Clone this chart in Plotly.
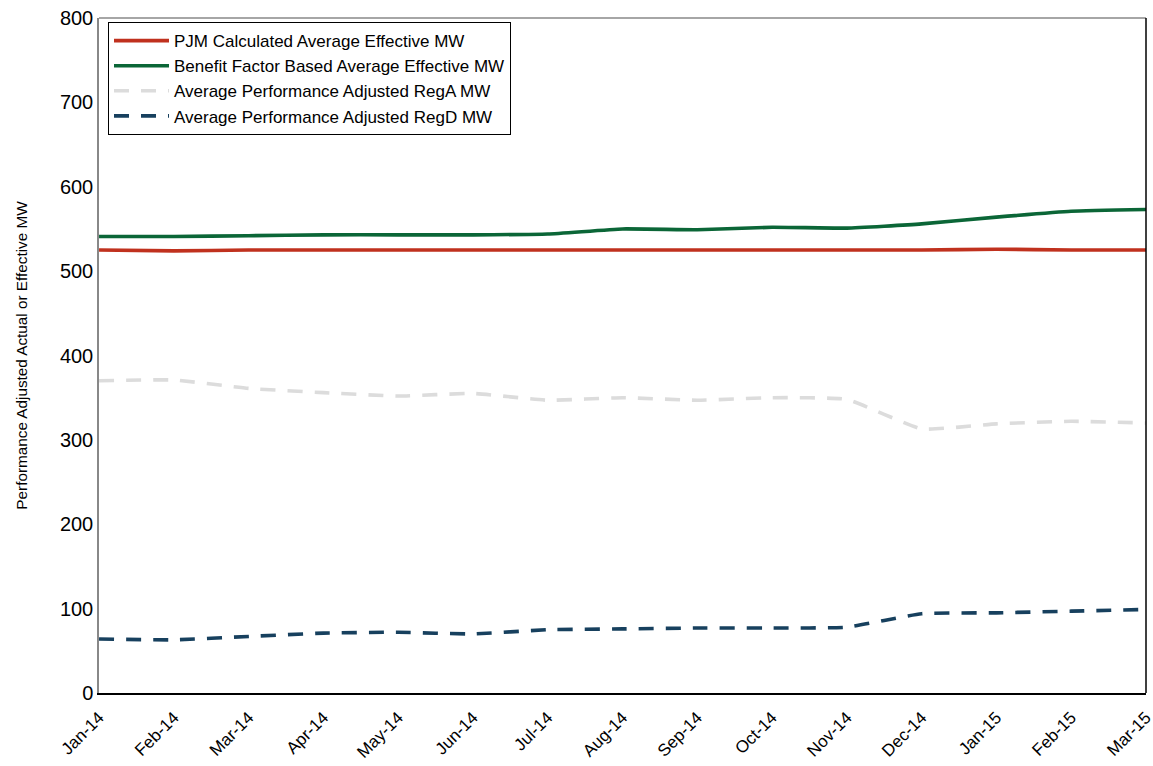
import plotly.graph_objects as go

months = ["Jan-14", "Feb-14", "Mar-14", "Apr-14", "May-14", "Jun-14", "Jul-14", "Aug-14",
          "Sep-14", "Oct-14", "Nov-14", "Dec-14", "Jan-15", "Feb-15", "Mar-15"]
pjm_effective = [525, 524, 525, 525, 525, 525, 525, 525, 525, 525, 525, 525, 526, 525, 525]
benefit_factor = [541, 541, 542, 543, 543, 543, 544, 550, 549, 552, 551, 556, 564, 571, 573]
rega_mw = [370, 371, 361, 356, 352, 355, 347, 350, 347, 350, 348, 313, 319, 322, 320]
regd_mw = [64, 63, 67, 71, 72, 70, 75, 76, 77, 77, 78, 94, 95, 97, 99]
y_ticks = [0, 100, 200, 300, 400, 500, 600, 700, 800]

x = list(range(len(months)))

fig = go.Figure()
series = [
    ("PJM Calculated Average Effective MW", pjm_effective, "#C0311E", "solid"),
    ("Benefit Factor Based Average Effective MW", benefit_factor, "#0B6637", "solid"),
    ("Average Performance Adjusted RegA MW", rega_mw, "#DCDCDC", "15px,12px"),
    ("Average Performance Adjusted RegD MW", regd_mw, "#17405E", "15px,12px"),
]
for name, vals, color, dash in series:
    fig.add_trace(go.Scatter(
        x=x, y=vals, name=name, mode="lines",
        line=dict(color=color, width=3.6, dash=dash, shape="spline", smoothing=0.4),
    ))

fig.update_layout(
    width=1153, height=766,
    margin=dict(l=99, r=7, t=18, b=73, autoexpand=False),
    paper_bgcolor="white", plot_bgcolor="white",
    font=dict(family="Liberation Sans, Arial, sans-serif", color="black"),
    showlegend=True,
    legend=dict(
        x=0.0086, y=0.994, xanchor="left", yanchor="top",
        bgcolor="white", bordercolor="black", borderwidth=1,
        font=dict(size=17, family="Liberation Sans, Arial, sans-serif"),
        tracegroupgap=0, itemwidth=55,
    ),
    xaxis=dict(
        range=[-0.0005, len(months) - 1 + 0.0005], tickmode="array", tickvals=x, ticktext=months,
        tickangle=-45, tickfont=dict(size=17), showgrid=False, zeroline=False,
        showline=True, linecolor="black", linewidth=2, ticks="", automargin=False,
        ticklabeloverflow="allow", ticklabelstandoff=6,
    ),
    yaxis=dict(
        range=[0, 800], tickmode="array", tickvals=y_ticks,
        tickfont=dict(size=20), showgrid=False, zeroline=False,
        showline=True, linecolor="#888888", linewidth=1.5, ticks="", automargin=False,
        title=dict(text="Performance Adjusted Actual or Effective MW",
                   font=dict(size=15.3, family="Liberation Sans Narrow, Arial Narrow, sans-serif"),
                   standoff=29),
    ),
    shapes=[
        dict(type="line", xref="paper", yref="paper", x0=0, x1=1, y0=1, y1=1,
             line=dict(color="#888888", width=1.5)),
        dict(type="line", xref="paper", yref="paper", x0=1, x1=1, y0=0, y1=1,
             line=dict(color="black", width=1.5)),
    ],
)

fig.write_html("out.html", config={"displayModeBar": False},
               post_script="document.body.style.margin='0';")
